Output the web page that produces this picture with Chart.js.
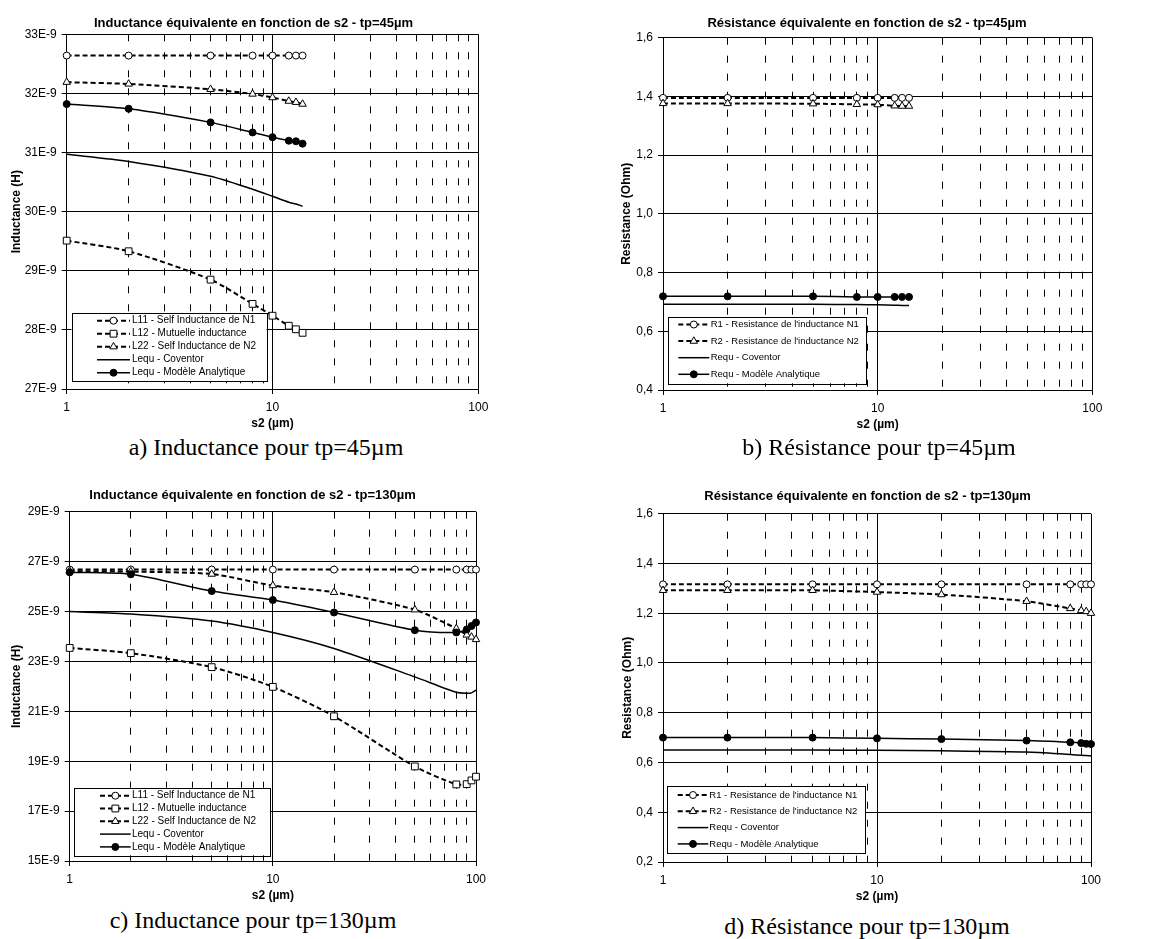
<!DOCTYPE html>
<html>
<head>
<meta charset="utf-8">
<script src="https://cdn.jsdelivr.net/npm/chart.js@4.4.0/dist/chart.umd.min.js"></script>
<style>
  html, body { margin: 0; padding: 0; background: #fff; }
  body { width: 1155px; height: 939px; position: relative; overflow: hidden; }
  canvas { position: absolute; }
  .caption {
    position: absolute; transform: translate(-50%, -50%);
    font-family: 'Liberation Serif', 'Times New Roman', serif; font-size: 24px;
    white-space: nowrap; line-height: 1; color: #000;
  }
</style>
</head>
<body>
<canvas id="chartA" width="507" height="434" style="left:0px;top:0px"></canvas>
<canvas id="chartB" width="534" height="435" style="left:600px;top:0px"></canvas>
<canvas id="chartC" width="505" height="446" style="left:0px;top:460px"></canvas>
<canvas id="chartD" width="535" height="447" style="left:600px;top:460px"></canvas>
<div class="caption" style="left:266px;top:447px">a) Inductance pour tp=45µm</div>
<div class="caption" style="left:879px;top:447px">b) Résistance pour tp=45µm</div>
<div class="caption" style="left:253px;top:920px">c) Inductance pour tp=130µm</div>
<div class="caption" style="left:867px;top:926px">d) Résistance pour tp=130µm</div>
<script>
// --- données (inductances en nH, résistances en Ohm) ---
const s2_45 = [1, 2, 5, 8, 10, 12, 13, 14];
const L11_45 = [32.64, 32.64, 32.64, 32.64, 32.64, 32.64, 32.64, 32.64];
const L12_45 = [29.51, 29.33, 28.85, 28.44, 28.24, 28.07, 28.01, 27.95];
const L22_45 = [32.19, 32.16, 32.07, 31.99, 31.93, 31.87, 31.85, 31.82];
const LequCov_45 = [30.97, 30.85, 30.60, 30.38, 30.26, 30.16, 30.13, 30.09];
const LequAna_45 = [31.82, 31.74, 31.51, 31.34, 31.26, 31.20, 31.19, 31.15];

const R1_45 = [1.395, 1.395, 1.395, 1.395, 1.395, 1.395, 1.395, 1.395];
const R2_45 = [1.376, 1.376, 1.375, 1.373, 1.372, 1.368, 1.367, 1.367];
const RequCov_45 = [0.692, 0.692, 0.692, 0.691, 0.690, 0.689, 0.688, 0.688];
const RequAna_45 = [0.719, 0.719, 0.719, 0.717, 0.717, 0.717, 0.717, 0.717];

const s2_130 = [1, 2, 5, 10, 20, 50, 80, 90, 95, 100];
const L11_130 = [26.68, 26.68, 26.68, 26.68, 26.68, 26.68, 26.68, 26.68, 26.68, 26.68];
const L12_130 = [23.54, 23.33, 22.77, 21.98, 20.80, 18.79, 18.07, 18.08, 18.23, 18.38];
const L22_130 = [26.62, 26.60, 26.50, 26.04, 25.77, 25.07, 24.32, 24.06, 23.98, 23.88];
const LequCov_130 = [25.00, 24.90, 24.62, 24.16, 23.52, 22.38, 21.76, 21.72, 21.74, 21.85];
const LequAna_130 = [26.57, 26.49, 25.82, 25.46, 24.96, 24.25, 24.16, 24.28, 24.42, 24.56];

const R1_130 = [1.316, 1.316, 1.316, 1.316, 1.316, 1.316, 1.316, 1.316, 1.316, 1.316];
const R2_130 = [1.292, 1.292, 1.292, 1.285, 1.275, 1.248, 1.219, 1.211, 1.207, 1.200];
const RequCov_130 = [0.650, 0.650, 0.650, 0.649, 0.647, 0.642, 0.632, 0.629, 0.628, 0.627];
const RequAna_130 = [0.700, 0.700, 0.700, 0.697, 0.694, 0.688, 0.681, 0.678, 0.675, 0.674];

// graduations de l'axe log
const xGridTicks = [1, 2, 3, 4, 5, 6, 7, 8, 9, 10, 20, 30, 40, 50, 60, 70, 80, 90, 100];
const xLabelTicks = [1, 10, 100];

Chart.defaults.font.family = "'Liberation Sans', Arial, sans-serif";
Chart.defaults.color = '#000';

// styles des courbes
const openCircle = { borderDash: [5, 3], borderWidth: 2, pointStyle: 'circle', pointRadius: 3.5, pointBackgroundColor: '#fff', order: 5 };
const openSquare = { borderDash: [5, 3], borderWidth: 2, pointStyle: 'rect', pointRadius: 4.8, pointBackgroundColor: '#fff', order: 4 };
const openTriangle = { borderDash: [5, 3], borderWidth: 2, pointStyle: 'triangle', pointRadius: 4.3, pointBackgroundColor: '#fff', order: 3 };
const plainLine = { borderDash: [], borderWidth: 1.5, pointStyle: 'circle', pointRadius: 0, pointBackgroundColor: '#000', order: 2 };
const filledCircle = { borderDash: [], borderWidth: 1.5, pointStyle: 'circle', pointRadius: 3.5, pointBackgroundColor: '#000', order: 1 };

function serie(label, xs, ys, style) {
  return Object.assign({
    label: label,
    data: xs.map((x, i) => ({ x: x, y: ys[i] })),
    borderColor: '#000',
    pointBorderColor: '#000',
    pointBorderWidth: 1,
    tension: 0.25,
    clip: false
  }, style);
}

// légende encadrée dans la zone de tracé (comme Excel)
const boxLegend = {
  id: 'boxLegend',
  afterDraw(chart, args, o) {
    const ctx = chart.ctx;
    ctx.save();
    ctx.fillStyle = '#fff';
    ctx.fillRect(o.x, o.y, o.w, o.h);
    ctx.strokeStyle = '#000';
    ctx.lineWidth = 1;
    ctx.strokeRect(Math.round(o.x) + 0.5, Math.round(o.y) + 0.5, Math.round(o.w), Math.round(o.h));
    chart.data.datasets.forEach((ds, i) => {
      const y = o.row0 + i * o.gap;
      ctx.setLineDash(ds.borderDash || []);
      ctx.lineWidth = ds.borderWidth;
      ctx.strokeStyle = '#000';
      ctx.beginPath();
      ctx.moveTo(o.sx1, y);
      ctx.lineTo(o.sx2, y);
      ctx.stroke();
      ctx.setLineDash([]);
      if (ds.pointRadius > 0) {
        ctx.fillStyle = ds.pointBackgroundColor;
        ctx.lineWidth = 1;
        Chart.helpers.drawPoint(ctx, { pointStyle: ds.pointStyle, radius: ds.pointRadius, borderWidth: 1, rotation: 0 }, (o.sx1 + o.sx2) / 2, y);
      }
      ctx.fillStyle = '#000';
      ctx.font = o.fontSize + "px 'Liberation Sans', Arial, sans-serif";
      ctx.textBaseline = 'middle';
      ctx.textAlign = 'left';
      ctx.fillText(ds.label, o.tx, y);
    });
    ctx.restore();
  }
};

function makeChart(id, datasets, cfg) {
  new Chart(document.getElementById(id), {
    type: 'line',
    data: { datasets: datasets },
    options: {
      responsive: false,
      animation: false,
      events: [],
      layout: { padding: 0 },
      plugins: {
        legend: { display: false },
        tooltip: { enabled: false },
        title: {
          display: true, text: cfg.title, color: '#000',
          font: { size: 13, weight: 'bold' },
          padding: { top: cfg.titleTop, bottom: cfg.titleBottom }
        },
        boxLegend: cfg.legend
      },
      scales: {
        x: {
          type: 'logarithmic', min: 1, max: 100,
          afterBuildTicks: s => { s.ticks = xGridTicks.map(v => ({ value: v, major: xLabelTicks.includes(v) })); },
          afterFit: s => { s.height = 45; },
          ticks: {
            autoSkip: false, maxRotation: 0, minRotation: 0, padding: 6, color: '#000',
            font: { size: 12 },
            callback: v => xLabelTicks.includes(v) ? String(v) : ''
          },
          grid: {
            color: '#000', lineWidth: 1, tickLength: 5,
            tickColor: c => (c.tick && xLabelTicks.includes(c.tick.value)) ? '#000' : 'rgba(0,0,0,0)'
          },
          border: {
            display: true, color: '#000', width: 1,
            dash: c => (c.tick && !xLabelTicks.includes(c.tick.value)) ? [7, 11] : []
          },
          title: { display: true, text: 's2 (µm)', color: '#000', font: { size: 12, weight: 'bold' }, padding: { top: 0, bottom: 3.2 } }
        },
        y: {
          type: 'linear', min: cfg.yMin, max: cfg.yMax,
          afterFit: s => { s.width = cfg.yWidth; },
          ticks: { stepSize: cfg.yStep, padding: 5, color: '#000', font: { size: 12 }, callback: cfg.yFormat },
          grid: { color: '#000', lineWidth: 1, tickLength: 5 },
          border: { display: true, color: '#000', width: 1 },
          title: { display: true, text: cfg.yTitle, color: '#000', font: { size: 12, weight: 'bold' }, padding: { top: cfg.yTitlePad, bottom: 0 } }
        },
        yr: {
          type: 'linear', position: 'right', display: true,
          grid: { display: false }, border: { display: false }, ticks: { display: false },
          afterFit: s => { s.width = cfg.rightGap; }
        }
      }
    },
    plugins: [boxLegend]
  });
}

const fmtL = v => Math.round(v) + 'E-9';
const fmtR = v => v.toFixed(1).replace('.', ',');

makeChart('chartA', [
  serie('L11 - Self Inductance de N1', s2_45, L11_45, openCircle),
  serie('L12 - Mutuelle inductance', s2_45, L12_45, openSquare),
  serie('L22 - Self Inductance de N2', s2_45, L22_45, openTriangle),
  serie('Lequ - Coventor', s2_45, LequCov_45, plainLine),
  serie('Lequ - Modèle Analytique', s2_45, LequAna_45, filledCircle)
], {
  title: 'Inductance équivalente en fonction de s2 - tp=45µm', titleTop: 15.5, titleBottom: 3.2,
  yMin: 27, yMax: 33, yStep: 1, yFormat: fmtL, yTitle: 'Inductance (H)', yTitlePad: 9.5,
  yWidth: 66.7, rightGap: 28.7,
  legend: { x: 71.5, y: 313, w: 195, h: 68, row0: 320.7, gap: 13, sx1: 97, sx2: 130, tx: 132, fontSize: 10 }
});

makeChart('chartB', [
  serie("R1 - Resistance de l'inductance N1", s2_45, R1_45, openCircle),
  serie("R2 - Resistance de l'inductance N2", s2_45, R2_45, openTriangle),
  serie('Requ - Coventor', s2_45, RequCov_45, plainLine),
  serie('Requ - Modèle Analytique', s2_45, RequAna_45, filledCircle)
], {
  title: 'Résistance équivalente en fonction de s2 - tp=45µm', titleTop: 15.5, titleBottom: 6.6,
  yMin: 0.4, yMax: 1.6, yStep: 0.2, yFormat: fmtR, yTitle: 'Resistance (Ohm)', yTitlePad: 19.5,
  yWidth: 63, rightGap: 41.7,
  legend: { x: 68.3, y: 316.7, w: 198.4, h: 66.6, row0: 324.5, gap: 16.6, sx1: 78.3, sx2: 109.3, tx: 110.7, fontSize: 9.5 }
});

makeChart('chartC', [
  serie('L11 - Self Inductance de N1', s2_130, L11_130, openCircle),
  serie('L12 - Mutuelle inductance', s2_130, L12_130, openSquare),
  serie('L22 - Self Inductance de N2', s2_130, L22_130, openTriangle),
  serie('Lequ - Coventor', s2_130, LequCov_130, plainLine),
  serie('Lequ - Modèle Analytique', s2_130, LequAna_130, filledCircle)
], {
  title: 'Inductance équivalente en fonction de s2 - tp=130µm', titleTop: 27.2, titleBottom: 8.9,
  yMin: 15, yMax: 29, yStep: 2, yFormat: fmtL, yTitle: 'Inductance (H)', yTitlePad: 9.5,
  yWidth: 69.7, rightGap: 29,
  legend: { x: 74, y: 327.7, w: 196, h: 67.6, row0: 335.7, gap: 12.8, sx1: 100, sx2: 130.7, tx: 132, fontSize: 10 }
});

makeChart('chartD', [
  serie("R1 - Resistance de l'inductance N1", s2_130, R1_130, openCircle),
  serie("R2 - Resistance de l'inductance N2", s2_130, R2_130, openTriangle),
  serie('Requ - Coventor', s2_130, RequCov_130, plainLine),
  serie('Requ - Modèle Analytique', s2_130, RequAna_130, filledCircle)
], {
  title: 'Résistance équivalente en fonction de s2 - tp=130µm', titleTop: 28.9, titleBottom: 9.2,
  yMin: 0.2, yMax: 1.6, yStep: 0.2, yFormat: fmtR, yTitle: 'Resistance (Ohm)', yTitlePad: 20.8,
  yWidth: 63, rightGap: 44,
  legend: { x: 67.3, y: 326, w: 197.7, h: 67.3, row0: 335, gap: 16.3, sx1: 77.7, sx2: 108.3, tx: 109.3, fontSize: 9.5 }
});
</script>
</body>
</html>
